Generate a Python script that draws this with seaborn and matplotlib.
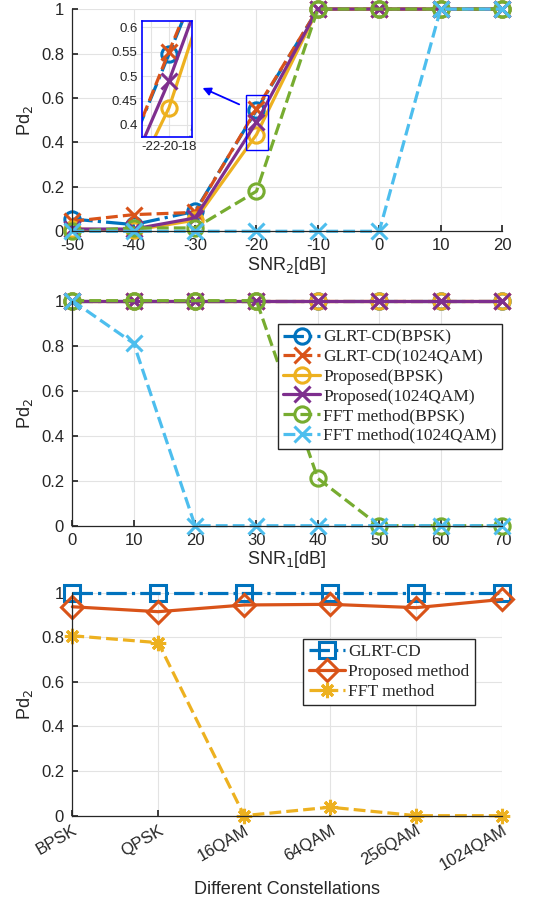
import numpy as np
import pandas as pd
import matplotlib
matplotlib.use("Agg")
import matplotlib.pyplot as plt
import seaborn as sns

# --- data ---
snr2 = [-50, -40, -30, -20, -10, 0, 10, 20]
glrt_bpsk_1 = [0.055, 0.03, 0.09, 0.545, 1, 1, 1, 1]
glrt_qam_1 = [0.045, 0.075, 0.085, 0.55, 1, 1, 1, 1]
prop_bpsk_1 = [0.01, 0.005, 0.05, 0.435, 1, 1, 1, 1]
prop_qam_1 = [0.01, 0.01, 0.06, 0.49, 1, 1, 1, 1]
fft_bpsk_1 = [0.0, 0.015, 0.015, 0.18, 1, 1, 1, 1]
fft_qam_1 = [0, 0, 0, 0, 0, 0, 1, 1]

snr1 = [0, 10, 20, 30, 40, 50, 60, 70]
glrt_bpsk_2 = [1, 1, 1, 1, 1, 1, 1, 1]
glrt_qam_2 = [1, 1, 1, 1, 1, 1, 1, 1]
prop_bpsk_2 = [1, 1, 1, 1, 1, 1, 1, 1]
prop_qam_2 = [1, 1, 1, 1, 1, 1, 1, 1]
fft_bpsk_2 = [1, 1, 1, 1, 0.21, 0, 0, 0]
fft_qam_2 = [1, 0.81, 0, 0, 0, 0, 0, 0]

constellations = ["BPSK", "QPSK", "16QAM", "64QAM", "256QAM", "1024QAM"]
glrt_const = [1, 1, 1, 1, 1, 1]
prop_const = [0.937, 0.915, 0.945, 0.948, 0.933, 0.970]
fft_const = [0.807, 0.776, 0.0, 0.038, 0.0, 0.0]

labels_snr = ["GLRT-CD(BPSK)", "GLRT-CD(1024QAM)", "Proposed(BPSK)",
              "Proposed(1024QAM)", "FFT method(BPSK)", "FFT method(1024QAM)"]
labels_const = ["GLRT-CD", "Proposed method", "FFT method"]

# MATLAB default colours
c_blue, c_orange, c_yellow = "#0072BD", "#D95319", "#EDB120"
c_purple, c_green, c_cyan = "#7E2F8E", "#77AC30", "#4DBEEE"

styles_snr = [
    (c_blue, "-.", "o"), (c_orange, "--", "x"), (c_yellow, "-", "o"),
    (c_purple, "-", "x"), (c_green, "--", "o"), (c_cyan, "--", "x"),
]
asterisk = (8, 2, 0)
styles_const = [(c_blue, "-.", "s"), (c_orange, "-", "D"), (c_yellow, "--", asterisk)]

sns.set_theme(style="whitegrid")
plt.rcParams["font.family"] = ["Liberation Sans", "DejaVu Sans"]
plt.rcParams["axes.unicode_minus"] = False
text_c = "#262626"
serif = "Liberation Serif"


def draw(ax, x, y, style, label, ms=11, clip=False):
    color, ls, mk = style
    sns.lineplot(x=x, y=y, ax=ax, color=color, linestyle=ls, marker=mk,
                 markersize=ms, markerfacecolor="none", markeredgecolor=color,
                 markeredgewidth=2.2, linewidth=2.3, label=label, sort=False)
    ax.lines[-1].set_clip_on(clip)


def style_axes(ax):
    ax.grid(True, color="#e3e3e3", linewidth=0.8)
    for side in ["top", "right"]:
        ax.spines[side].set_visible(False)
    for side in ["left", "bottom"]:
        ax.spines[side].set_color(text_c)
        ax.spines[side].set_linewidth(0.9)
    ax.tick_params(axis="both", direction="in", length=4, color=text_c,
                   labelcolor=text_c, labelsize=12, left=True, bottom=True)
    ax.tick_params(axis="x", pad=5)
    ax.tick_params(axis="y", pad=6)
    ax.set_ylim(0, 1)
    ax.set_yticks([0, 0.2, 0.4, 0.6, 0.8, 1])
    ax.set_yticklabels(["0", "0.2", "0.4", "0.6", "0.8", "1"])
    ax.set_ylabel("Pd$_2$", fontsize=13, color=text_c, labelpad=4)


def style_legend(leg):
    leg.get_frame().set_edgecolor(text_c)
    leg.get_frame().set_linewidth(1.0)
    leg.get_frame().set_alpha(1)
    for t in leg.get_texts():
        t.set_color(text_c)


fig = plt.figure(figsize=(5.48, 9.07), dpi=100)
ax1 = fig.add_axes([0.132, 0.745, 0.784, 0.245])
ax2 = fig.add_axes([0.132, 0.4204, 0.784, 0.2481])
ax3 = fig.add_axes([0.132, 0.1007, 0.784, 0.2458])

# --- panel 1 ---
series1 = [glrt_bpsk_1, glrt_qam_1, prop_bpsk_1, prop_qam_1, fft_bpsk_1, fft_qam_1]
for y, st, lb in zip(series1, styles_snr, labels_snr):
    draw(ax1, snr2, y, st, lb)
ax1.get_legend().remove()
style_axes(ax1)
ax1.set_xlim(-50, 20)
ax1.set_xticks(snr2)
ax1.set_xlabel("SNR$_2$[dB]", fontsize=13, color=text_c, labelpad=1)

# zoom rectangle and arrow
ax1.add_patch(plt.Rectangle((-21.7, 0.367), 3.6, 0.247, fill=False,
                            edgecolor="blue", linewidth=1, zorder=5))
ax1.annotate("", xy=(-29.2, 0.65), xytext=(-22.4, 0.566),
             arrowprops=dict(arrowstyle="-|>", color="blue", lw=1.3,
                             mutation_scale=12))

# inset
axin = fig.add_axes([141.7 / 548, 1 - 136.7 / 907, 50 / 548, 116 / 907])
for y, st, lb in zip(series1, styles_snr, labels_snr):
    draw(axin, snr2, y, st, lb, ms=11, clip=True)
axin.get_legend().remove()
axin.set_xlim(-23, -17.5)
axin.set_ylim(0.376, 0.6135)
axin.set_xticks([-22, -20, -18])
axin.set_xticklabels(["-22", "-20", "-18"])
axin.set_yticks([0.4, 0.45, 0.5, 0.55, 0.6])
axin.set_yticklabels(["0.4", "0.45", "0.5", "0.55", "0.6"])
axin.grid(True, color="#e3e3e3", linewidth=0.8)
axin.set_xlabel("")
axin.set_ylabel("")
axin.tick_params(axis="both", direction="in", length=3, labelsize=9.5,
                 labelcolor=text_c, pad=3)
for s in axin.spines.values():
    s.set_color("blue")
    s.set_linewidth(1.2)
    s.set_visible(True)

# --- panel 2 ---
series2 = [glrt_bpsk_2, glrt_qam_2, prop_bpsk_2, prop_qam_2, fft_bpsk_2, fft_qam_2]
for y, st, lb in zip(series2, styles_snr, labels_snr):
    draw(ax2, snr1, y, st, lb)
style_axes(ax2)
ax2.set_xlim(0, 70)
ax2.set_xticks(snr1)
ax2.set_xlabel("SNR$_1$[dB]", fontsize=13, color=text_c, labelpad=1)
leg2 = ax2.legend(loc="upper right", bbox_to_anchor=(1.0, 0.895), frameon=True,
                  fancybox=False, prop={"family": serif, "size": 12.5},
                  handlelength=2.1, handletextpad=0.2, labelspacing=0.2,
                  borderpad=0.3, borderaxespad=0.0)
style_legend(leg2)

# --- panel 3 ---
series3 = [glrt_const, prop_const, fft_const]
for y, st, lb in zip(series3, styles_const, labels_const):
    draw(ax3, constellations, y, st, lb, ms=11)
style_axes(ax3)
ax3.set_xlim(0, 5)
plt.setp(ax3.get_xticklabels(), rotation=30, ha="right", rotation_mode="anchor")
ax3.set_xlabel("Different Constellations", fontsize=13, color=text_c, labelpad=6)
leg3 = ax3.legend(loc="upper right", bbox_to_anchor=(0.937, 0.792), frameon=True,
                  fancybox=False, prop={"family": serif, "size": 12.5},
                  handlelength=2.1, handletextpad=0.2, labelspacing=0.2,
                  borderpad=0.3, borderaxespad=0.0)
style_legend(leg3)

fig.savefig("out.png", dpi=100)
